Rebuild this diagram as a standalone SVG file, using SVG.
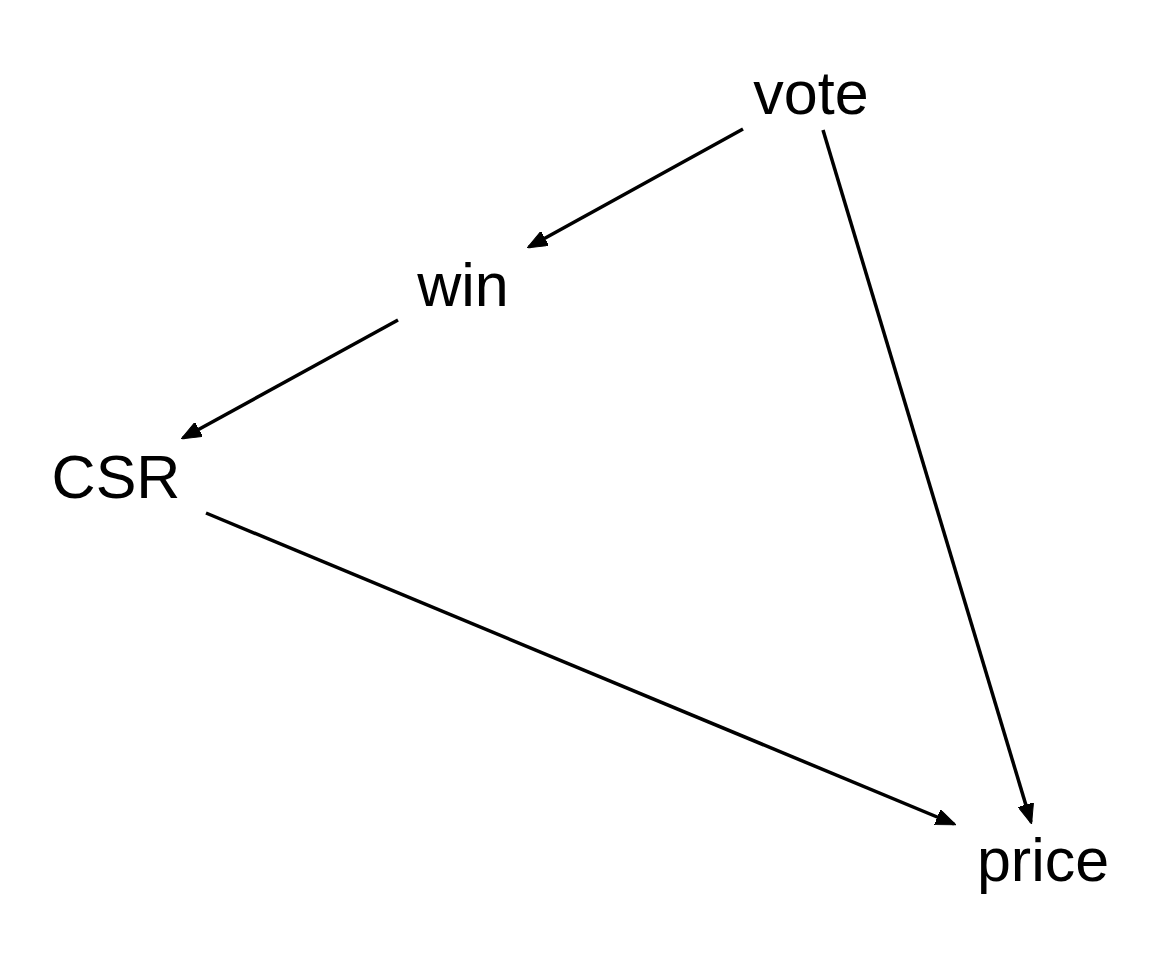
<svg xmlns="http://www.w3.org/2000/svg" width="1152" height="960" viewBox="0 0 1152 960">
<style>
.lbl{font-family:"Liberation Sans",Arial,sans-serif;font-size:61px;fill:#000;text-anchor:middle}
.edge{stroke:#000;stroke-width:3.5;fill:none}
</style>
<defs>
<marker id="ah" viewBox="0 0 20 16" refX="18" refY="8" markerWidth="20" markerHeight="16" markerUnits="userSpaceOnUse" orient="auto">
<path d="M0,0 L20,8 L0,16 Z" fill="#000" stroke="#000" stroke-width="1"/>
</marker>
</defs>
<rect width="1152" height="960" fill="#fff"/>
<g id="connectors">
<line class="edge" x1="743" y1="129" x2="529" y2="247" marker-end="url(#ah)"/>
<line class="edge" x1="398" y1="320" x2="183" y2="438" marker-end="url(#ah)"/>
<line class="edge" x1="206" y1="513" x2="954" y2="824" marker-end="url(#ah)"/>
<line class="edge" x1="823" y1="130" x2="1031" y2="822" marker-end="url(#ah)"/>
</g>
<g id="vote"><text class="lbl" x="811" y="114">vote</text></g>
<g id="win"><text class="lbl" x="463" y="306">win</text></g>
<g id="CSR"><text class="lbl" x="116" y="498">CSR</text></g>
<g id="price"><text class="lbl" x="1043" y="881">price</text></g>
</svg>
